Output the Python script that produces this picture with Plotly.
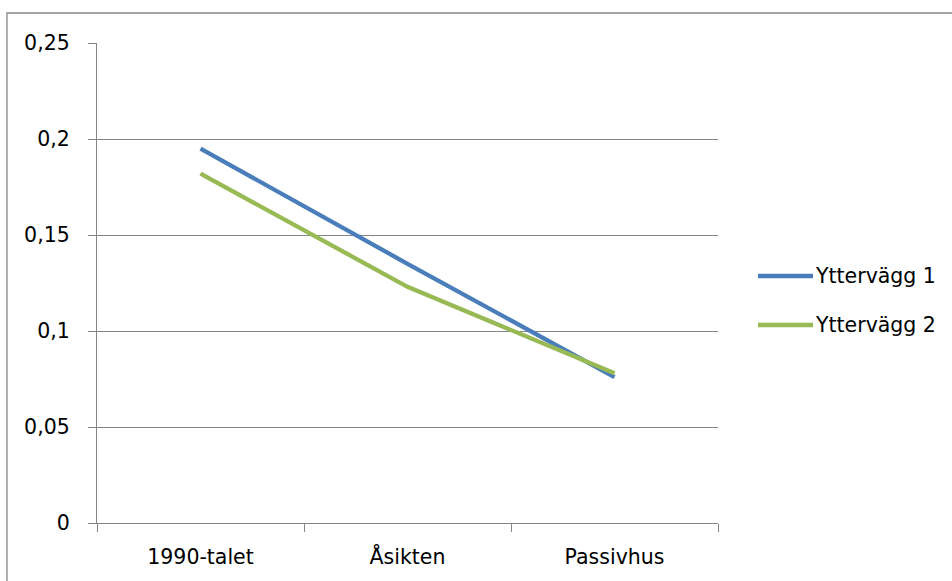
import plotly.graph_objects as go

# Categories and series values
categories = ["1990-talet", "Åsikten", "Passivhus"]
series_names = ["Yttervägg 1", "Yttervägg 2"]
yttervagg_1 = [0.195, 0.135, 0.076]
yttervagg_2 = [0.182, 0.123, 0.078]
y_tick_values = [0, 0.05, 0.1, 0.15, 0.2, 0.25]
y_tick_labels = ["0", "0,05", "0,1", "0,15", "0,2", "0,25"]

colors = ["#4A7EBB", "#98B954"]
grid_color = "#868686"
font_family = "DejaVu Sans, sans-serif"
font_size = 20.5

W, H = 952, 581
L, R, T, B = 97, 234, 43, 58
plot_w = W - L - R
plot_h = H - T - B


def px_to_paper_x(px):
    return (px - L) / plot_w


def px_to_paper_y(py):
    return (H - B - py) / plot_h


fig = go.Figure()
for name, vals, col in zip(series_names, [yttervagg_1, yttervagg_2], colors):
    fig.add_trace(go.Scatter(
        x=categories, y=vals, mode="lines", name=name,
        line=dict(color=col, width=4.3),
        showlegend=False,
    ))

# Legend drawn as line samples with labels to the right
legend_rows = [276, 325]
shapes = []
annotations = []
for name, col, row in zip(series_names, colors, legend_rows):
    shapes.append(dict(
        type="line", xref="paper", yref="paper",
        x0=px_to_paper_x(758), x1=px_to_paper_x(813),
        y0=px_to_paper_y(row), y1=px_to_paper_y(row),
        line=dict(color=col, width=4.3),
    ))
    annotations.append(dict(
        xref="paper", yref="paper",
        x=px_to_paper_x(813), y=px_to_paper_y(row),
        xanchor="left", yanchor="middle", showarrow=False,
        text=name, font=dict(family=font_family, size=font_size, color="#000000"),
    ))

# Chart-area border (top and left edges visible inside the page)
shapes.append(dict(
    type="rect", xref="paper", yref="paper", layer="below",
    x0=px_to_paper_x(7), x1=px_to_paper_x(W + 20),
    y0=px_to_paper_y(H + 20), y1=px_to_paper_y(13),
    line=dict(color="#868686", width=1.3),
))

fig.update_layout(
    width=W, height=H,
    margin=dict(l=L, r=R, t=T, b=B, pad=0),
    paper_bgcolor="white", plot_bgcolor="white",
    font=dict(family=font_family, size=font_size, color="#000000"),
    showlegend=False,
    shapes=shapes,
    annotations=annotations,
    xaxis=dict(
        type="category", range=[-0.5, 2.5],
        showline=True, linecolor=grid_color, linewidth=1.3,
        ticks="outside", tickson="boundaries", ticklen=8,
        tickcolor=grid_color, tickwidth=1.3,
        showgrid=False, zeroline=False,
        tickfont=dict(family=font_family, size=font_size),
        ticklabelstandoff=15,
    ),
    yaxis=dict(
        range=[0, 0.25],
        tickvals=y_tick_values, ticktext=y_tick_labels,
        showline=True, linecolor=grid_color, linewidth=1.3,
        ticks="outside", ticklen=8, tickcolor=grid_color, tickwidth=1.3,
        showgrid=True, gridcolor=grid_color, gridwidth=1.3,
        zeroline=False,
        tickfont=dict(family=font_family, size=font_size),
        ticklabelstandoff=14,
    ),
)

fig.write_html("out.html")
